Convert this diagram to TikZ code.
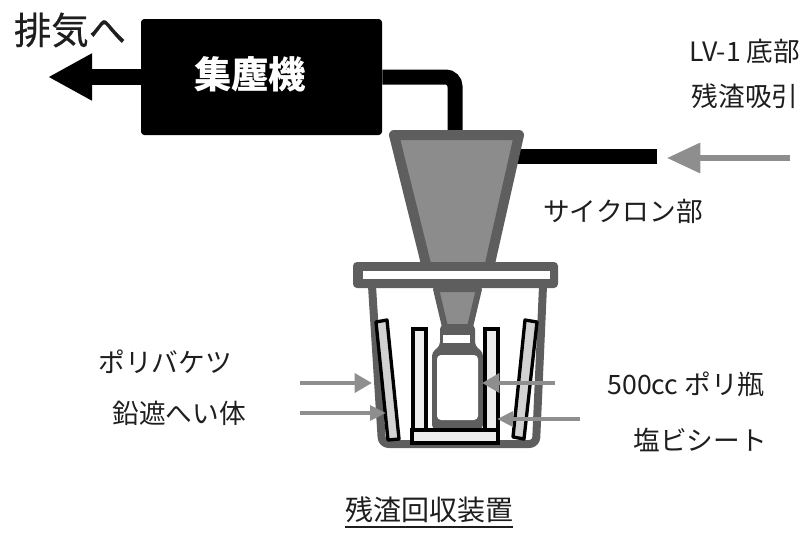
\documentclass[tikz,border=0pt]{standalone}
\usepackage{fontspec}
\newfontfamily\jp{Noto Sans CJK JP}
\newfontfamily\jpmed[FakeBold=0.6]{Noto Sans CJK JP}
\usetikzlibrary{arrows.meta}
\definecolor{wall}{HTML}{5E5E5E}
\definecolor{funnelgray}{HTML}{8C8C8C}
\definecolor{arrowgray}{HTML}{8E8E8E}
\definecolor{shieldgray}{HTML}{D2D2D2}
\definecolor{sheetgray}{HTML}{EDEDED}
\definecolor{ink}{HTML}{1E1E1E}
\begin{document}
\begin{tikzpicture}[x=0.75pt,y=-0.75pt,
  lbl/.style={font=\jp\fontsize{20pt}{24pt}\selectfont, inner sep=0pt, text=ink},
  biglbl/.style={font=\jp\bfseries\fontsize{28pt}{32pt}\selectfont, inner sep=0pt},
  pipe/.style={draw=black, line width=11.25pt},
  ptrbig/.style={draw=arrowgray, line width=4.2pt, -{Triangle[length=25pt,width=22pt]}},
  ptr/.style={draw=arrowgray, line width=3.6pt, -{Triangle[length=13pt,width=14pt]}},
  ptrthin/.style={draw=arrowgray, line width=2.8pt, -{Triangle[length=12pt,width=11pt]}},
  sheet/.style={fill=sheetgray, draw=black, line width=2.5pt},
  shield/.style={fill=shieldgray, draw=black, line width=2.5pt, line join=round}]
\useasboundingbox (0,0) rectangle (809,532);

% dust collector
\node (dust) [fill=black, rounded corners=2.5pt, minimum width=180.75pt,
  minimum height=87pt, inner sep=0pt] at (261.5,77) {};
\node (dusttxt) [biglbl, text=white] at (250,74) {集塵機};

% exhaust
\coordinate (exhaust) at (48,77);
\draw[line width=12pt, -{Triangle[length=33pt,width=33pt]}] (dust.west) -- (exhaust);
\node (exhlbl) [font=\jpmed\fontsize{28pt}{32pt}\selectfont, inner sep=0pt, text=ink] at (70,30) {排気へ};

% pipes to the cyclone
\coordinate (cyctop) at (455,136);
\draw[pipe, rounded corners=7pt] (dust.east) -| (cyctop);
\coordinate (inlet) at (657,156);
\coordinate (cycside) at (512,156);
\draw[pipe] (inlet) -- (cycside);

% suction from LV-1
\coordinate (lvtail) at (790,158);
\coordinate (lvtip) at (667,158);
\draw[ptrbig] (lvtail) -- (lvtip);
\node (lv1) [lbl] at (745,51) {LV-1 底部};
\node (lv2) [lbl] at (745,96) {残渣吸引};

% cyclone funnel
\filldraw[fill=funnelgray, draw=wall, line width=7.5pt, line join=round]
  (394,135) -- (519,135) -- (489,268) -- (427,268) -- cycle;
\node (cyclbl) [lbl] at (623,211) {サイクロン部};

% lid
\fill[wall, rounded corners=3pt] (353,262) rectangle (558,288);
\fill[white] (363,271) rectangle (550,279);

% bucket
\draw[wall, line width=6pt, rounded corners=5pt, line join=round]
  (372,286) -- (382,444) -- (536,444) -- (543,286);

% funnel tail below the lid
\filldraw[fill=funnelgray, draw=wall, line width=4.5pt, line join=round]
  (436,289) -- (479,289) -- (470,327) -- (445,327) -- cycle;

% bottle
\fill[wall, rounded corners=3pt] (440,325) -- (475,325) -- (475,346) -- (483,352)
  -- (483,429) -- (432,429) -- (432,352) -- (440,346) -- cycle;
\fill[white] (443,335) rectangle (470,343);
\fill[white, rounded corners=3pt] (437,355) rectangle (478,420);

% vinyl sheet
\filldraw[sheet] (413,329) rectangle (426,430);
\filldraw[sheet] (485,329) rectangle (498,430);
\filldraw[sheet] (412,430) rectangle (498,443);

% lead shields
\filldraw[shield] (376,322) -- (387,320) -- (399,439) -- (388,440) -- cycle;
\filldraw[shield] (525,320) -- (537,322) -- (524,439) -- (513,437) -- cycle;

% labels and pointers
\coordinate (bucketwall) at (372,383);
\coordinate (leadshield) at (386,413);
\coordinate (bottle) at (482,383);
\coordinate (vinyl) at (497,419);
\coordinate (t1) at (300,383);
\coordinate (t2) at (300,413);
\coordinate (t3) at (555,383);
\coordinate (t4) at (580,419);
\draw[ptr] (t1) -- (bucketwall);
\draw[ptrthin] (t2) -- (leadshield);
\draw[ptr] (t3) -- (bottle);
\draw[ptrthin] (t4) -- (vinyl);
\node (bucketlbl) [lbl] at (165,362) {ポリバケツ};
\node (shieldlbl) [lbl] at (179,413) {鉛遮へい体};
\node (bottlelbl) [lbl] at (686,384) {500cc ポリ瓶};
\node (sheetlbl) [lbl] at (700,440) {塩ビシート};

% caption
\node (title) [font=\jp\fontsize{21pt}{24pt}\selectfont, inner sep=0pt, text=ink] at (429,510) {残渣回収装置};
\draw[ink, line width=1.5pt] ([yshift=-3pt]title.south west) -- ([yshift=-3pt]title.south east);
\end{tikzpicture}
\end{document}
